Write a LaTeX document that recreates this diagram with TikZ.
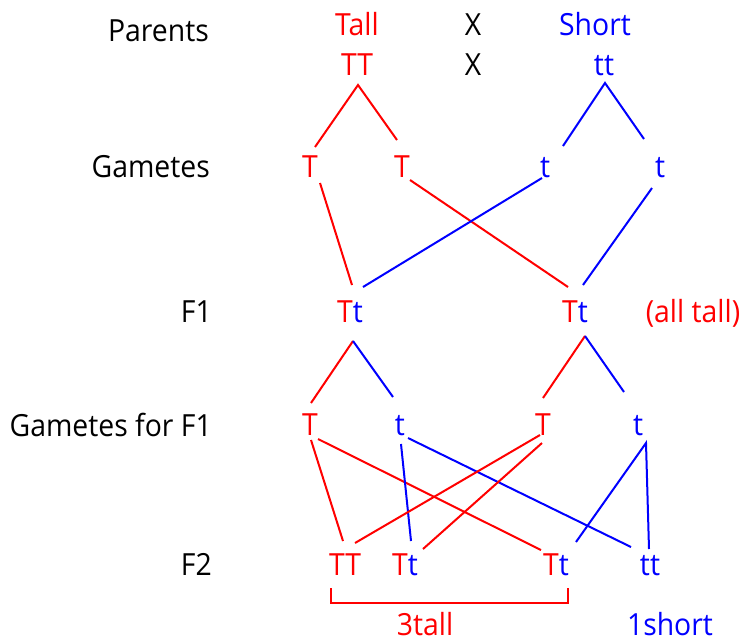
\documentclass[tikz,border=0pt]{standalone}
\usepackage{fontspec}
\setmainfont{Open Sans}[FakeStretch=0.93]
\usetikzlibrary{positioning}
\definecolor{tred}{RGB}{255,0,0}
\definecolor{tblue}{RGB}{0,0,255}
\tikzset{
  gene/.style={anchor=base, inner sep=0pt, font=\fontsize{30.5}{32}\selectfont},
  rowlabel/.style={anchor=base east, inner sep=0pt, font=\fontsize{30.5}{32}\selectfont, text=black},
  redline/.style={draw=tred, line width=2pt},
  blueline/.style={draw=tblue, line width=2pt},
  bracketline/.style={draw=tred, line width=1.5pt},
}
\newcommand{\Tt}{{\color{tred}T}{\color{tblue}t}}
\begin{document}
\begin{tikzpicture}[x=1pt, y=-1pt]
\useasboundingbox (0,0) rectangle (744,641);

% row labels
\node[rowlabel] (lp) at (209,41) {Parents};
\node[rowlabel] (lg) at (210,177) {Gametes};
\node[rowlabel] (lf1) at (212,322) {F1};
\node[rowlabel] (lgf) at (212,436) {Gametes for F1};
\node[rowlabel] (lf2) at (212,575) {F2};

% parents
\node[gene, text=tred] (tall) at (357,35) {Tall};
\node[gene] (x1) at (473,35) {X};
\node[gene, text=tblue] (short) at (595,35) {Short};
\node[gene, text=tred] (TT) at (357,75) {TT};
\node[gene] (x2) at (473,75) {X};
\node[gene, text=tblue] (tt) at (604,75) {tt};

% gametes
\node[gene, text=tred] (gT1) at (310,177) {T};
\node[gene, text=tred] (gT2) at (402,177) {T};
\node[gene, text=tblue] (gt1) at (545,177) {t};
\node[gene, text=tblue] (gt2) at (660,177) {t};

% F1
\node[gene] (F1a) at (350,322) {\Tt};
\node[gene] (F1b) at (575,322) {\Tt};
\node[gene, text=tred] (alltall) at (693,322) {(all tall)};

% gametes for F1
\node[gene, text=tred] (hT1) at (310,435) {T};
\node[gene, text=tblue] (ht1) at (400,435) {t};
\node[gene, text=tred] (hT2) at (543,435) {T};
\node[gene, text=tblue] (ht2) at (638,435) {t};

% F2
\node[gene, text=tred] (F2a) at (345,575) {TT};
\node[gene] (F2b) at (405,575) {\Tt};
\node[gene] (F2c) at (556,575) {\Tt};
\node[gene, text=tblue] (F2d) at (650,575) {tt};

\node[gene, text=tred] (threetall) at (425,635) {3tall};
\node[gene, text=tblue] (oneshort) at (670,635) {1short};

% parents -> gametes
\draw[redline] ([xshift=5pt,yshift=30pt]gT1.base) -- ([xshift=1pt,yshift=-10pt]TT.base) -- ([xshift=-5pt,yshift=37pt]gT2.base);
\draw[blueline] ([xshift=18pt,yshift=31pt]gt1.base) -- ([xshift=1pt,yshift=-8pt]tt.base) -- ([xshift=-16pt,yshift=38pt]gt2.base);

% gametes -> F1
\draw[redline] ([xshift=10pt,yshift=-6pt]gT1.base) -- ([xshift=2pt,yshift=37pt]F1a.base);
\draw[redline] ([xshift=8pt,yshift=-3pt]gT2.base) -- ([xshift=-7pt,yshift=35pt]F1b.base);
\draw[blueline] ([xshift=-3pt,yshift=-1pt]gt1.base) -- ([xshift=13pt,yshift=35pt]F1a.base);
\draw[blueline] ([xshift=-8pt,yshift=-11pt]gt2.base) -- ([xshift=8pt,yshift=37pt]F1b.base);

% F1 -> gametes for F1
\draw[redline] ([xshift=3pt,yshift=-19pt]F1a.base) -- ([xshift=1pt,yshift=32pt]hT1.base);
\draw[blueline] ([xshift=3pt,yshift=-19pt]F1a.base) -- ([xshift=-7pt,yshift=38pt]ht1.base);
\draw[redline] ([xshift=10pt,yshift=-14pt]F1b.base) -- ([xshift=0pt,yshift=37pt]hT2.base);
\draw[blueline] ([xshift=10pt,yshift=-14pt]F1b.base) -- ([xshift=-14pt,yshift=43pt]ht2.base);

% gametes for F1 -> F2
\draw[redline] ([xshift=1pt,yshift=-5pt]hT1.base) -- ([xshift=-2pt,yshift=34pt]F2a.base);
\draw[redline] ([xshift=8pt,yshift=-4pt]hT1.base) -- ([xshift=-15pt,yshift=25pt]F2c.base);
\draw[blueline] ([xshift=1pt,yshift=-9pt]ht1.base) -- ([xshift=6pt,yshift=34pt]F2b.base);
\draw[blueline] ([xshift=8pt,yshift=-3pt]ht1.base) -- ([xshift=-19pt,yshift=28pt]F2d.base);
\draw[redline] ([xshift=-3pt,yshift=0pt]hT2.base) -- ([xshift=10pt,yshift=32pt]F2a.base);
\draw[redline] ([xshift=-1pt,yshift=-8pt]hT2.base) -- ([xshift=18pt,yshift=26pt]F2b.base);
\draw[blueline] ([xshift=20pt,yshift=33pt]F2c.base) -- ([xshift=8pt,yshift=-8pt]ht2.base) -- ([xshift=-1pt,yshift=26pt]F2d.base);

% bracket
\draw[bracketline] ([xshift=-14pt,yshift=-13pt]F2a.base) -- ([xshift=-14pt,yshift=-28pt]F2a.base) -- ([xshift=12pt,yshift=-28pt]F2c.base) -- ([xshift=12pt,yshift=-13pt]F2c.base);
\end{tikzpicture}
\end{document}
